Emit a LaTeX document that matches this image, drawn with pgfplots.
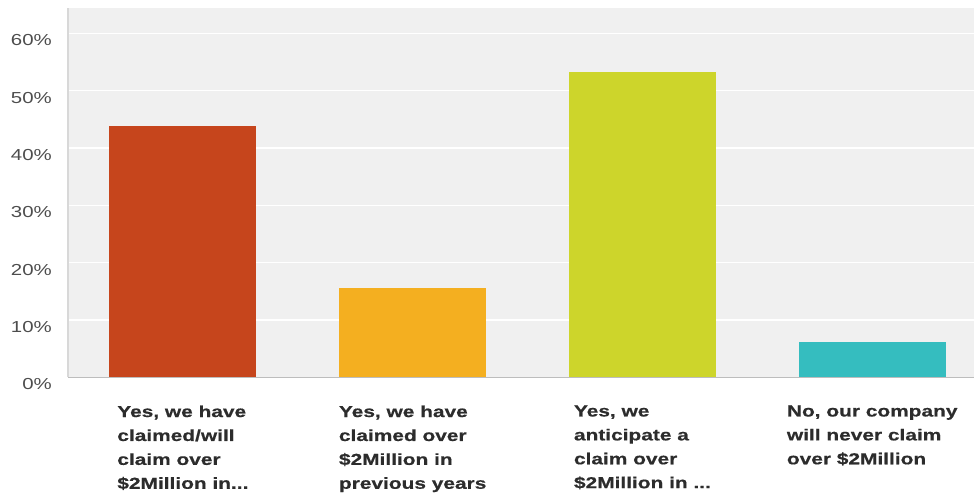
\documentclass[border=0pt]{standalone}
\usepackage{fontspec}
\usepackage{pgfplots}
\pgfplotsset{compat=1.18}
\setmainfont{Liberation Sans}
\newfontfamily\lab[FakeStretch=1.28]{Liberation Sans}
\newfontfamily\labb[FakeStretch=1.31, FakeBold=0.6]{Liberation Sans Bold}
\definecolor{c1}{HTML}{C6451C}
\definecolor{c2}{HTML}{F4AF20}
\definecolor{c3}{HTML}{CDD52B}
\definecolor{c4}{HTML}{35BDBF}
\definecolor{plotbg}{HTML}{F0F0F0}
\definecolor{axisgray}{HTML}{BDBDBD}
\definecolor{leftgray}{HTML}{D8D8D8}
\definecolor{labcol}{HTML}{2C2C2C}
\definecolor{tickcol}{HTML}{4D4D4D}
\begin{document}
\begin{tikzpicture}
\useasboundingbox (0,0) rectangle (974bp,493bp);
\begin{axis}[
  at={(68bp,115.7bp)}, anchor=south west,
  scale only axis, width=906bp, height=369.3bp,
  xmin=-0.5, xmax=3.443, ymin=0, ymax=64.4,
  ybar, bar width=0.64, bar shift=0pt,
  xtick={0,1,2,3},
  xticklabels={{Yes, we have\\claimed/will\\claim over\\\$2Million in{...}},
               {Yes, we have\\claimed over\\\$2Million in\\previous years},
               {Yes, we\\anticipate a\\claim over\\\$2Million in {...}},
               {No, our company\\will never claim\\over \$2Million}},
  ytick={0,10,20,30,40,50,60},
  yticklabel={\pgfmathprintnumber{\tick}\%},
  /pgf/number format/assume math mode=true,
  major tick length=0pt,
  ymajorgrids, grid style={white, line width=1.3bp},
  axis background/.style={fill=plotbg},
  axis x line*=bottom, axis y line*=left,
  x axis line style={-, draw=axisgray, line width=1bp},
  y axis line style={-, draw=leftgray, line width=2bp},
  xticklabel style={font={\labb\fontsize{16}{24}\selectfont}, align=left, anchor=north, inner sep=0pt, yshift=-28bp, text=labcol},
  yticklabel style={font={\lab\fontsize{16}{19}\selectfont}, anchor=east, inner sep=0pt, xshift=-16bp, yshift=-7bp, text=tickcol},
]
\addplot[draw=none, fill=c1] coordinates {(0,43.9)};
\addplot[draw=none, fill=c2] coordinates {(1,15.5)};
\addplot[draw=none, fill=c3] coordinates {(2,53.2)};
\addplot[draw=none, fill=c4] coordinates {(3,6.2)};
\end{axis}
\end{tikzpicture}
\end{document}
